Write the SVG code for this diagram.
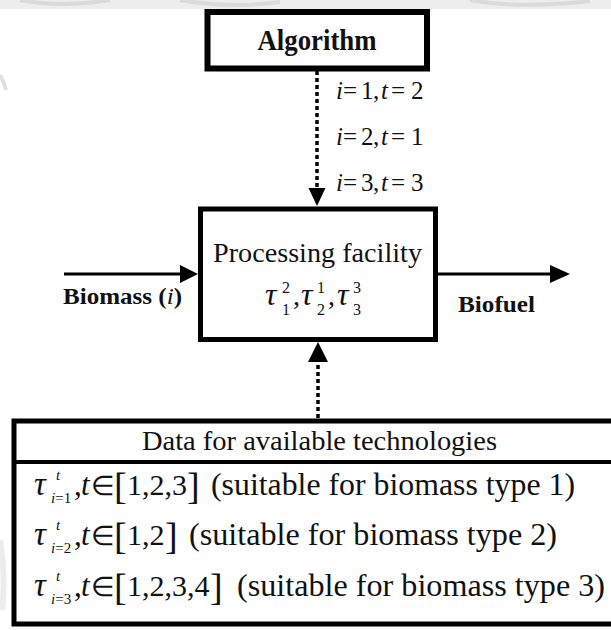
<svg xmlns="http://www.w3.org/2000/svg" width="611" height="630" viewBox="0 0 611 630">
  <style>
    .box { fill: #ffffff; stroke: #000000; }
    .serif { font-family: "Liberation Serif", "Times New Roman", serif; fill: #111111; }
    .bold { font-weight: bold; }
    .it { font-style: italic; }
    .solid { stroke: #000000; stroke-width: 3; fill: none; }
    .dotted { stroke: #000000; stroke-width: 3.5; stroke-dasharray: 4 3; fill: none; }
    .head { fill: #000000; }
  </style>

  <!-- page background with a faint grey margin at the top and left -->
  <rect x="0" y="0" width="611" height="630" fill="#ffffff"/>
  <rect x="0" y="0" width="611" height="9" fill="#ededed"/>
  <path d="M 20 0 Q 60 8 110 0 M 180 0 Q 230 9 280 2 M 470 0 Q 520 9 590 1" stroke="#d2d2d2" stroke-width="4" fill="none" opacity="0.7"/>
  <path d="M 0 75 Q 4 82 6 90" stroke="#e0e0e0" stroke-width="4" fill="none"/>
  <path d="M 0 540 Q 6 575 2 610" stroke="#ececec" stroke-width="6" fill="none"/>

  <!-- Algorithm -->
  <g id="algorithm">
    <rect class="box" x="207.5" y="12" width="219.5" height="56.5" stroke-width="6"/>
    <text class="serif bold" x="317" y="50" font-size="29" text-anchor="middle" textLength="119" lengthAdjust="spacingAndGlyphs">Algorithm</text>
  </g>

  <!-- Processing facility -->
  <g id="processing-facility">
    <rect class="box" x="200.5" y="209" width="235" height="130.5" stroke-width="5"/>
    <text class="serif" x="317.5" y="262" font-size="28" text-anchor="middle" textLength="209" lengthAdjust="spacingAndGlyphs">Processing facility</text>
    <g class="serif">
      <text class="it" x="265" y="305" font-size="32">τ</text>
      <text x="282" y="293" font-size="16">2</text>
      <text x="282" y="315" font-size="16">1</text>
      <text x="293" y="305" font-size="28">,</text>
      <text class="it" x="301" y="305" font-size="32">τ</text>
      <text x="317" y="293" font-size="16">1</text>
      <text x="317" y="315" font-size="16">2</text>
      <text x="328" y="305" font-size="28">,</text>
      <text class="it" x="337" y="305" font-size="32">τ</text>
      <text x="353" y="293" font-size="16">3</text>
      <text x="353" y="315" font-size="16">3</text>
    </g>
  </g>

  <!-- Data table -->
  <g id="technology-data">
    <rect class="box" x="14" y="421" width="610" height="203" stroke-width="5"/>
    <line x1="14" y1="462" x2="611" y2="462" stroke="#000000" stroke-width="4"/>
    <text class="serif" x="319.5" y="450" font-size="27" text-anchor="middle" textLength="355" lengthAdjust="spacingAndGlyphs">Data for available technologies</text>

    <!-- row 1 -->
    <g class="serif">
      <text class="it" x="34" y="495" font-size="33">τ</text>
      <text class="it" x="56" y="480" font-size="15">t</text>
      <text x="51" y="503" font-size="15"><tspan class="it">i</tspan>=1</text>
      <text x="74" y="495" font-size="31">,<tspan class="it" x="81">t</tspan></text>
      <text x="91" y="495" font-size="27">∈</text>
      <text x="114" y="499" font-size="38">[</text>
      <text x="127" y="495" font-size="30">1,2,3</text>
      <text x="187" y="499" font-size="38">]</text>
      <text x="211" y="495" font-size="32" textLength="364" lengthAdjust="spacingAndGlyphs">(suitable for biomass type 1)</text>
    </g>

    <!-- row 2 -->
    <g class="serif">
      <text class="it" x="34" y="545" font-size="33">τ</text>
      <text class="it" x="56" y="530" font-size="15">t</text>
      <text x="51" y="553" font-size="15"><tspan class="it">i</tspan>=2</text>
      <text x="74" y="545" font-size="31">,<tspan class="it" x="81">t</tspan></text>
      <text x="91" y="545" font-size="27">∈</text>
      <text x="114" y="549" font-size="38">[</text>
      <text x="127" y="545" font-size="30">1,2</text>
      <text x="165" y="549" font-size="38">]</text>
      <text x="189" y="545" font-size="32" textLength="368" lengthAdjust="spacingAndGlyphs">(suitable for biomass type 2)</text>
    </g>

    <!-- row 3 -->
    <g class="serif">
      <text class="it" x="34" y="596" font-size="33">τ</text>
      <text class="it" x="56" y="581" font-size="15">t</text>
      <text x="51" y="604" font-size="15"><tspan class="it">i</tspan>=3</text>
      <text x="74" y="596" font-size="31">,<tspan class="it" x="81">t</tspan></text>
      <text x="91" y="596" font-size="27">∈</text>
      <text x="114" y="600" font-size="38">[</text>
      <text x="127" y="596" font-size="30">1,2,3,4</text>
      <text x="210" y="600" font-size="38">]</text>
      <text x="237" y="596" font-size="32" textLength="368" lengthAdjust="spacingAndGlyphs">(suitable for biomass type 3)</text>
    </g>
  </g>

  <!-- connectors -->
  <g id="connectors">
    <!-- Algorithm to facility, with the chosen technologies -->
    <line class="dotted" x1="317" y1="71" x2="317" y2="189"/>
    <polygon class="head" points="308.5,188 325.5,188 317,206"/>
    <g class="serif" font-size="25">
      <text y="99"><tspan class="it" x="336">i</tspan><tspan x="343">=</tspan><tspan x="361">1</tspan><tspan x="373">,</tspan><tspan class="it" x="381">t</tspan><tspan x="391">=</tspan><tspan x="411">2</tspan></text>
      <text y="145"><tspan class="it" x="336">i</tspan><tspan x="343">=</tspan><tspan x="361">2</tspan><tspan x="373">,</tspan><tspan class="it" x="381">t</tspan><tspan x="391">=</tspan><tspan x="411">1</tspan></text>
      <text y="191"><tspan class="it" x="336">i</tspan><tspan x="343">=</tspan><tspan x="361">3</tspan><tspan x="373">,</tspan><tspan class="it" x="381">t</tspan><tspan x="391">=</tspan><tspan x="411">3</tspan></text>
    </g>

    <!-- data table to facility -->
    <line class="dotted" x1="318" y1="418" x2="318" y2="361"/>
    <polygon class="head" points="308,362 328,362 318,342"/>

    <!-- biomass in -->
    <line class="solid" x1="64" y1="274" x2="182" y2="274"/>
    <polygon class="head" points="180,265 180,283 198,274"/>
    <text class="serif bold" x="63" y="304" font-size="23" textLength="119" lengthAdjust="spacingAndGlyphs">Biomass (<tspan class="it" font-weight="normal">i</tspan>)</text>

    <!-- biofuel out -->
    <line class="solid" x1="438" y1="274" x2="552" y2="274"/>
    <polygon class="head" points="550,265 550,283 570,274"/>
    <text class="serif bold" x="458" y="312" font-size="23" textLength="77" lengthAdjust="spacingAndGlyphs">Biofuel</text>
  </g>
</svg>
